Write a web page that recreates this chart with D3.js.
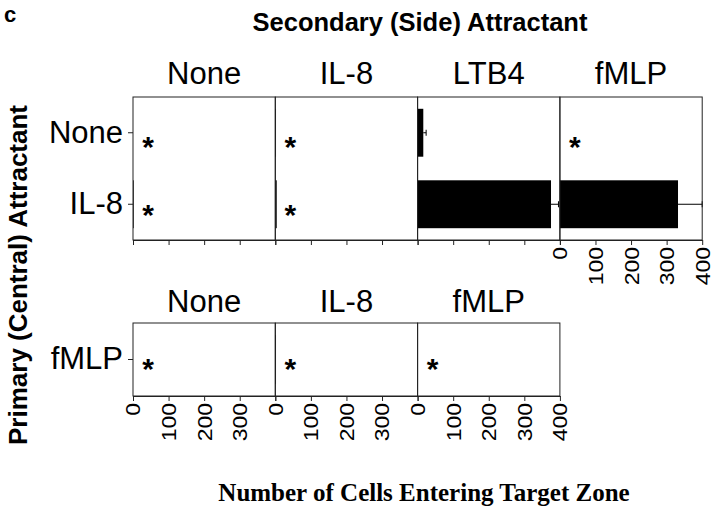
<!DOCTYPE html>
<html><head><meta charset="utf-8">
<script src="https://cdn.jsdelivr.net/npm/d3@7"></script>
<style>body{margin:0;background:#fff}svg{display:block}</style>
</head><body>
<script>
// ---- data ----
const topPrimary = ["None", "IL-8"];
const topSecondary = ["None", "IL-8", "LTB4", "fMLP"];
const topNoneValues = [0, 2, 16, 0];
const topNoneErrors = [0, 0, 8, 0];
const topNoneStars = [true, true, false, true];
const topIL8Values = [2, 4, 375, 332];
const topIL8Errors = [0, 0, 21, 68];
const topIL8Stars = [true, true, false, false];
const bottomPrimary = ["fMLP"];
const bottomSecondary = ["None", "IL-8", "fMLP"];
const bottomFMLPValues = [0, 2, 0];
const bottomFMLPErrors = [0, 0, 0];
const bottomFMLPStars = [true, true, true];
const tickValues = [0, 100, 200, 300, 400];

const W = 720, H = 511;
const svg = d3.select("body").append("svg").attr("width", W).attr("height", H);
const SANS = "'Liberation Sans', Arial, sans-serif";
const SERIF = "'Liberation Serif', 'Times New Roman', serif";

const panelLeft = 133, panelW = 142.3;

function drawRow(opts) {
  const {top, h, primary, secondary, valuesByRow, errorsByRow, starsByRow, labelsOn, headerY, starOffsets} = opts;
  const y = d3.scaleBand().domain(primary).range([top, top + h]).paddingInner(0.33).paddingOuter(0.165);
  secondary.forEach((sec, j) => {
    const x0 = panelLeft + j * panelW;
    const x = d3.scaleLinear().domain([0, 400]).range([x0, x0 + panelW]);
    const g = svg.append("g");
    // header
    svg.append("text").attr("x", x0 + panelW / 2).attr("y", headerY)
      .attr("text-anchor", "middle").attr("font-family", SANS).attr("font-size", 31)
      .text(sec);
    // bars
    primary.forEach((p, i) => {
      const v = valuesByRow[i][j], e = errorsByRow[i][j];
      if (v > 0) {
        g.append("rect").attr("x", x(0)).attr("y", y(p)).attr("width", x(v) - x(0))
          .attr("height", y.bandwidth()).attr("fill", "#000");
      }
      if (e > 0) {
        const cy = y(p) + y.bandwidth() / 2;
        g.append("line").attr("x1", x(v)).attr("x2", x(v + e)).attr("y1", cy).attr("y2", cy)
          .attr("stroke", "#000").attr("stroke-width", 1);
        g.append("line").attr("x1", x(v + e)).attr("x2", x(v + e)).attr("y1", cy - 3).attr("y2", cy + 3)
          .attr("stroke", "#000").attr("stroke-width", 1);
      }
      if (starsByRow[i][j]) {
        const cy = y(p) + y.bandwidth() / 2 + starOffsets[i];
        g.append("text").attr("x", x(0) + 15).attr("y", cy + 16)
          .attr("text-anchor", "middle")
          .attr("font-family", SANS).attr("font-size", 30).attr("font-weight", "bold").text("*");
      }
    });
    // frame
    g.append("rect").attr("x", x0).attr("y", top).attr("width", panelW).attr("height", h)
      .attr("fill", "none").attr("stroke", "#222").attr("stroke-width", 1);
    // x axis
    const showLab = labelsOn[j];
    const ax = svg.append("g").attr("transform", `translate(0,${top + h})`)
      .call(d3.axisBottom(x).tickValues(tickValues).tickSize(5).tickSizeOuter(0)
        .tickFormat(d => showLab.includes(d) ? d : ""));
    ax.select(".domain").attr("stroke", "#222");
    ax.selectAll(".tick line").attr("stroke", "#222");
    ax.selectAll(".tick text")
      .attr("font-family", SANS).attr("font-size", 20).attr("fill", "#000")
      .attr("text-anchor", "end").attr("dy", null).attr("y", 0).attr("x", 0)
      .attr("dominant-baseline", "central")
      .attr("transform", "translate(0,7) rotate(-90) scale(1.15,1)");
  });
  // y axis on leftmost panel
  const ay = svg.append("g").attr("transform", `translate(${panelLeft},0)`)
    .call(d3.axisLeft(y).tickSize(5).tickPadding(5).tickSizeOuter(0));
  ay.select(".domain").remove();
  ay.selectAll(".tick line").attr("stroke", "#222");
  ay.selectAll(".tick text").attr("font-family", SANS).attr("font-size", 31).attr("fill", "#000");
}

drawRow({
  top: 97, h: 143, primary: topPrimary, secondary: topSecondary,
  valuesByRow: [topNoneValues, topIL8Values],
  errorsByRow: [topNoneErrors, topIL8Errors],
  starsByRow: [topNoneStars, topIL8Stars],
  labelsOn: [[], [], [], tickValues], headerY: 84, starOffsets: [8, 5]
});
drawRow({
  top: 323, h: 73, primary: bottomPrimary, secondary: bottomSecondary,
  valuesByRow: [bottomFMLPValues], errorsByRow: [bottomFMLPErrors], starsByRow: [bottomFMLPStars],
  labelsOn: [[0, 100, 200, 300], [0, 100, 200, 300], tickValues], headerY: 312, starOffsets: [3]
});

// titles
svg.append("text").attr("x", 4).attr("y", 22).attr("font-family", SANS).attr("font-weight", "bold")
  .attr("font-size", 22).text("c");
svg.append("text").attr("x", 420).attr("y", 31).attr("text-anchor", "middle")
  .attr("font-family", SANS).attr("font-weight", "bold").attr("font-size", 25.5)
  .text("Secondary (Side) Attractant");
svg.append("text").attr("transform", "translate(27,275) rotate(-90)").attr("text-anchor", "middle")
  .attr("font-family", SANS).attr("font-weight", "bold").attr("font-size", 26)
  .text("Primary (Central) Attractant");
svg.append("text").attr("x", 424).attr("y", 501).attr("text-anchor", "middle")
  .attr("font-family", SERIF).attr("font-weight", "bold").attr("font-size", 25)
  .text("Number of Cells Entering Target Zone");
</script>
</body></html>
